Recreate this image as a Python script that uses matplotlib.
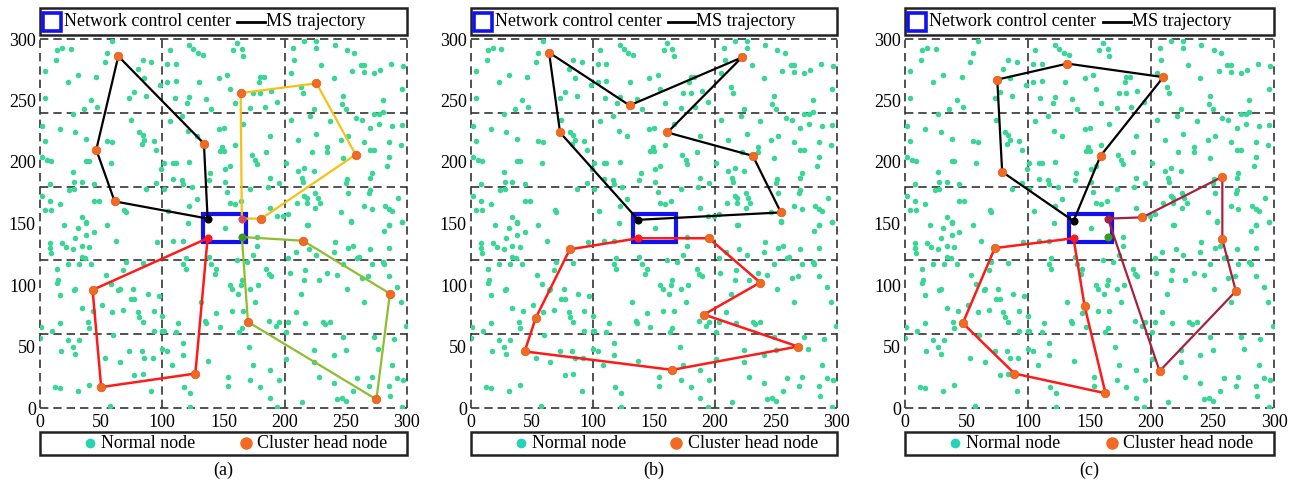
import numpy as np
import matplotlib
matplotlib.use("Agg")
import matplotlib.pyplot as plt
from matplotlib.patches import Rectangle

plt.rcParams['font.family'] = ['Liberation Serif', 'DejaVu Serif']

# Normal nodes (same deployment in all three panels)
normal_nodes = [
    # x 0-100, y 150-300
    (59, 298), (14, 291), (18, 293), (25, 292), (55, 289), (13, 283), (53, 281), (84, 283), (91, 281), (80, 276),
    (4, 274), (31, 271), (23, 265), (46, 269), (85, 268), (98, 263), (77, 257), (73, 252), (87, 254), (4, 252),
    (42, 250), (36, 243), (47, 245), (27, 239), (74, 234), (2, 229), (16, 227), (29, 224), (81, 224), (84, 222),
    (83, 215), (85, 218), (38, 219), (55, 217), (59, 216), (93, 217), (4, 217), (95, 210), (2, 204), (6, 202),
    (9, 201), (38, 201), (40, 201), (58, 199), (99, 194), (27, 192), (28, 184), (34, 184), (44, 182), (8, 182),
    (24, 177), (28, 178), (87, 178), (95, 183), (2, 172), (8, 168), (16, 166), (44, 168), (48, 168), (69, 161),
    (70, 159), (4, 161), (9, 161), (34, 155), (38, 151),
    # x 100-200, y 150-300
    (122, 295), (125, 292), (129, 289), (133, 287), (161, 297), (158, 291), (165, 292), (166, 286), (106, 291),
    (104, 280), (111, 280), (153, 271), (146, 268), (130, 265), (111, 266), (104, 265), (180, 269), (183, 269),
    (179, 265), (155, 259), (159, 248), (174, 256), (180, 256), (189, 258), (194, 249), (110, 252), (122, 253),
    (120, 248), (136, 251), (140, 243), (172, 244), (184, 245), (116, 237), (106, 233), (166, 231), (150, 228),
    (146, 227), (121, 225), (128, 221), (188, 221), (149, 212), (147, 209), (150, 209), (159, 214), (185, 208),
    (101, 199), (109, 199), (111, 199), (122, 200), (173, 206), (176, 202), (177, 198), (155, 197), (151, 194),
    (139, 191), (109, 186), (116, 185), (117, 182), (138, 185), (151, 184), (188, 187), (195, 183), (101, 178),
    (124, 180), (153, 176), (172, 178), (186, 180), (128, 170), (155, 167), (159, 166), (164, 168), (188, 163),
    (194, 156), (199, 156), (122, 164), (105, 160),
    # x 200-300, y 150-300
    (207, 293), (216, 298), (226, 298), (226, 293), (241, 295), (251, 291), (257, 289), (208, 283), (230, 279),
    (262, 279), (265, 279), (297, 278), (287, 280), (205, 272), (255, 274), (265, 273), (273, 272), (278, 275),
    (240, 268), (213, 261), (215, 256), (296, 259), (248, 254), (247, 247), (250, 243), (280, 250), (224, 243),
    (221, 237), (205, 234), (258, 236), (263, 234), (273, 239), (277, 239), (280, 241), (237, 233), (270, 228),
    (277, 231), (288, 229), (296, 230), (226, 223), (211, 218), (246, 218), (252, 221), (285, 216), (295, 214),
    (265, 216), (270, 210), (273, 210), (235, 212), (235, 208), (222, 208), (201, 199), (248, 203), (285, 204),
    (284, 197), (211, 193), (216, 195), (224, 193), (271, 191), (251, 186), (250, 183), (214, 187), (215, 184),
    (270, 187), (270, 177), (269, 175), (293, 171), (225, 175), (227, 171), (216, 172), (218, 171), (218, 167),
    (210, 167), (229, 167), (225, 163), (252, 175), (265, 164), (271, 162), (282, 164), (285, 162), (288, 160),
    (203, 158), (246, 159), (254, 152), (219, 149), (285, 149), (296, 151),
    # x 0-100, y 0-150
    (20, 149), (31, 146), (38, 150), (55, 149), (8, 134), (8, 130), (9, 126), (18, 134), (21, 131), (27, 129),
    (29, 138), (38, 141), (44, 143), (34, 132), (40, 131), (62, 136), (96, 135), (34, 123), (37, 122), (14, 113),
    (15, 104), (14, 102), (23, 117), (32, 117), (42, 117), (70, 119), (84, 118), (54, 108), (68, 112), (58, 101),
    (16, 92), (28, 96), (29, 97), (64, 96), (65, 97), (76, 97), (74, 89), (77, 89), (88, 93), (97, 91),
    (51, 84), (34, 81), (43, 79), (59, 78), (68, 80), (80, 78), (81, 74), (84, 70), (93, 79), (16, 69),
    (39, 70), (40, 65), (1, 66), (10, 63), (0, 57), (60, 59), (93, 63), (100, 63), (23, 55), (32, 55),
    (27, 50), (29, 44), (17, 46), (73, 46), (83, 46), (85, 41), (92, 41), (53, 41), (65, 37), (100, 48),
    (77, 27), (84, 28), (12, 17), (16, 16), (31, 14), (40, 19), (91, 14), (57, 2),
    # x 100-200, y 0-150
    (121, 150), (151, 146), (109, 136), (117, 136), (177, 139), (177, 132), (174, 124), (119, 122), (117, 117),
    (119, 113), (138, 123), (140, 117), (144, 113), (143, 109), (161, 120), (169, 119), (185, 113), (187, 109),
    (189, 107), (165, 104), (164, 100), (155, 100), (157, 97), (162, 93), (172, 97), (178, 100), (132, 86),
    (176, 86), (157, 79), (166, 79), (144, 77), (135, 71), (136, 69), (113, 69), (147, 66), (187, 71), (195, 70),
    (193, 67), (101, 63), (111, 62), (165, 65), (163, 62), (100, 75), (117, 53), (104, 46), (117, 43), (108, 35),
    (171, 50), (137, 38), (174, 35), (188, 31), (154, 25), (154, 18), (118, 17), (123, 12), (172, 23), (180, 17),
    (195, 23), (188, 8), (194, 1), (123, 1),
    # x 200-300, y 0-150
    (218, 149), (254, 151), (281, 144), (285, 149), (296, 151), (209, 127), (220, 129), (226, 124), (240, 127),
    (241, 135), (252, 130), (256, 132), (259, 122), (261, 123), (270, 129), (285, 130), (203, 122), (248, 117),
    (271, 117), (280, 119), (281, 117), (204, 110), (217, 112), (216, 104), (228, 104), (235, 110), (243, 108),
    (263, 106), (268, 107), (285, 107), (292, 98), (295, 86), (213, 93), (251, 97), (265, 86), (209, 78),
    (203, 70), (217, 69), (231, 70), (233, 68), (237, 70), (299, 67), (201, 62), (248, 58), (273, 58), (289, 56),
    (224, 47), (250, 47), (276, 48), (201, 40), (240, 43), (224, 37), (288, 35), (228, 25), (240, 20), (259, 24),
    (269, 18), (271, 25), (292, 24), (297, 23), (285, 18), (256, 14), (286, 10), (214, 5), (243, 7), (247, 8),
    (250, 6), (296, 1),
]

# network control center (x0, x1, y0, y1)
ncc_x = [133, 168]
ncc_y = [135, 158]

# MS trajectories: first point = start at the control center, inner points = cluster heads
a_black_x = [137, 134, 64, 46, 61, 137]
a_black_y = [154, 215, 286, 210, 168, 154]
a_yellow_x = [165, 181, 258, 226, 164, 165]
a_yellow_y = [154, 154, 206, 264, 256, 154]
a_red_x = [137, 43, 50, 127, 137]
a_red_y = [138, 96, 17, 28, 138]
a_green_x = [165, 215, 286, 275, 170, 165]
a_green_y = [139, 136, 93, 7, 70, 139]

b_black_x = [137, 254, 231, 161, 222, 130, 64, 73, 137]
b_black_y = [153, 159, 205, 224, 285, 246, 289, 224, 153]
b_red_x = [137, 195, 237, 191, 268, 165, 44, 53, 81, 137]
b_red_y = [138, 138, 102, 76, 50, 31, 46, 73, 129, 138]

c_black_x = [137, 159, 210, 132, 75, 79, 137]
c_black_y = [152, 205, 269, 280, 267, 192, 152]
c_darkred_x = [165, 193, 258, 258, 269, 207, 165]
c_darkred_y = [154, 155, 188, 137, 95, 30, 154]
c_red_x = [137, 73, 47, 89, 163, 146, 137]
c_red_y = [138, 130, 69, 28, 12, 83, 138]
c_idle_x = [165]
c_idle_y = [139]

panel_labels = ['(a)', '(b)', '(c)']

NODE_C = '#3bd597'
HEAD_C = '#f06a22'
BLUE = '#1212ee'

panels = [
    [(a_black_x, a_black_y, 'black', 'black', 1.6),
     (a_yellow_x, a_yellow_y, '#f5c116', '#d8485a', 1.6),
     (a_red_x, a_red_y, '#ff1a1a', '#ff1a1a', 1.8),
     (a_green_x, a_green_y, '#8cbf2e', '#3a9a20', 1.6)],
    [(b_black_x, b_black_y, 'black', 'black', 1.6),
     (b_red_x, b_red_y, '#ff1a1a', '#ff1a1a', 1.8)],
    [(c_black_x, c_black_y, 'black', 'black', 1.6),
     (c_darkred_x, c_darkred_y, '#a8203e', '#a8203e', 1.6),
     (c_red_x, c_red_y, '#ff1a1a', '#ff1a1a', 1.8)],
]

fig = plt.figure(figsize=(12.95, 4.9), dpi=100)
W, H = 1295.0, 490.0
ax_px = [(40, 367), (471, 366), (905, 369)]

nodes = np.array(normal_nodes, dtype=float)
dash = (0, (5, 3))

for k, (left, width) in enumerate(ax_px):
    ax = fig.add_axes([left / W, (490 - 408) / H, width / W, 369 / H])
    ax.set_xlim(0, 300)
    ax.set_ylim(0, 300)
    for s in ax.spines.values():
        s.set_visible(False)
    for gx in [0, 100, 200, 300]:
        ax.axvline(gx, color='#333333', lw=1.2, ls=dash, zorder=1, clip_on=False)
    for gy in [0, 60, 120, 180, 240, 300]:
        ax.axhline(gy, color='#333333', lw=1.2, ls=dash, zorder=1, clip_on=False)
    ax.set_xticks(range(0, 301, 50))
    ax.set_yticks(range(0, 301, 50))
    ax.tick_params(length=0, labelsize=13)
    ax.tick_params(axis='x', pad=4)
    ax.tick_params(axis='y', pad=3)

    ax.scatter(nodes[:, 0], nodes[:, 1], s=16, color=NODE_C, lw=0, zorder=2)

    ax.add_patch(Rectangle((ncc_x[0], ncc_y[0]), ncc_x[1] - ncc_x[0], ncc_y[1] - ncc_y[0],
                           fill=False, ec=BLUE, lw=3, zorder=3))

    for xs, ys, col, start_col, lw in panels[k]:
        ax.plot(xs, ys, color=col, lw=lw, zorder=4)
        ax.scatter(xs[1:-1], ys[1:-1], s=38, color=HEAD_C, ec='#e05a1a', lw=0.5, zorder=5)
        ax.scatter(xs[:1], ys[:1], s=34, color=start_col, lw=0, zorder=6)
    if k == 2:
        ax.scatter(c_idle_x, c_idle_y, s=34, color='#3a9a20', lw=0, zorder=6)

    # top legend
    ax.add_patch(Rectangle((0, 1.011), 1.0, 0.073, transform=ax.transAxes, fill=False,
                           lw=1.8, ec='#222222', clip_on=False))
    ly = 1.047
    ax.plot([0.033], [ly], marker='s', ms=13, mfc='none', mec=BLUE, mew=2.6,
            transform=ax.transAxes, clip_on=False)
    ax.text(0.066, ly, 'Network control center', transform=ax.transAxes,
            ha='left', va='center', fontsize=13)
    ax.plot([0.537, 0.613], [ly, ly], color='black', lw=2, transform=ax.transAxes, clip_on=False)
    ax.text(0.616, ly, 'MS trajectory', transform=ax.transAxes,
            ha='left', va='center', fontsize=13)

    # bottom legend
    ax.add_patch(Rectangle((0, -0.127), 1.0, 0.062, transform=ax.transAxes, fill=False,
                           lw=1.8, ec='#222222', clip_on=False))
    by = -0.096
    ax.plot([0.136], [by], marker='o', ms=7, color='#26d3b2', mec='none',
            transform=ax.transAxes, clip_on=False)
    ax.text(0.166, by, 'Normal node', transform=ax.transAxes, ha='left', va='center', fontsize=13)
    ax.plot([0.561], [by], marker='o', ms=9, color=HEAD_C, mec='none',
            transform=ax.transAxes, clip_on=False)
    ax.text(0.592, by, 'Cluster head node', transform=ax.transAxes, ha='left', va='center', fontsize=13)

    ax.text(0.5, -0.17, panel_labels[k], transform=ax.transAxes, ha='center', va='center', fontsize=13)

fig.savefig('out.png', dpi=100)
